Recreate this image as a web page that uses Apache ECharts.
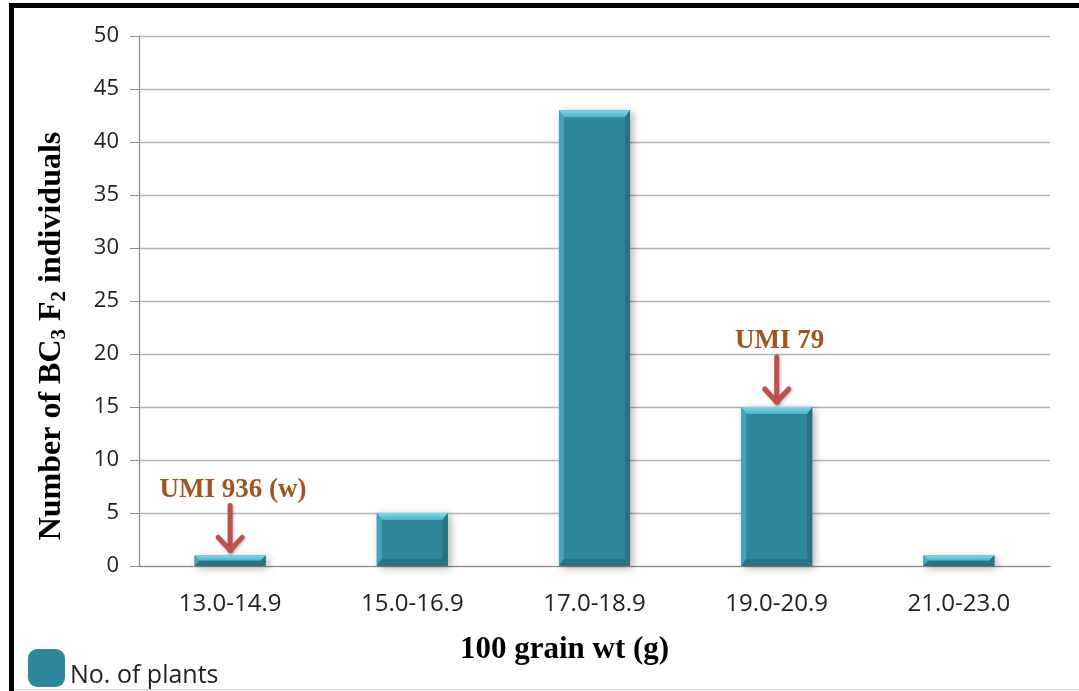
<!DOCTYPE html>
<html>
<head>
<meta charset="utf-8">
<script src="https://cdn.jsdelivr.net/npm/echarts@6/dist/echarts.min.js"></script>
<style>
  html, body { margin: 0; padding: 0; background: #fff; }
  #main { width: 1079px; height: 691px; }
</style>
</head>
<body>
<div id="main"></div>
<script>
const categories = ["13.0-14.9", "15.0-16.9", "17.0-18.9", "19.0-20.9", "21.0-23.0"];
const plants = [1, 5, 43, 15, 1];
const yTicks = { min: 0, max: 50, interval: 5 };
const notes = [
  ["13.0-14.9", 1, "UMI 936 (w)"],
  ["19.0-20.9", 15, "UMI 79"],
];

const chart = echarts.init(document.getElementById("main"));
const sans = "'Open Sans', 'Noto Sans', sans-serif";
const serif = "'Liberation Serif', 'DejaVu Serif', serif";
const barFrac = 0.39;

// bevel edges drawn over each bar
const bevel = (params, api) => {
  const top = api.coord([api.value(0), api.value(1)]);
  const base = api.coord([api.value(0), 0]);
  const w = api.size([1, 0])[0] * barFrac;
  const l = top[0] - w / 2, r = top[0] + w / 2, t = top[1], b = base[1];
  const s = Math.min(7, (b - t) / 2);
  const sx = Math.min(5, (b - t) / 2);
  return {
    type: "group",
    children: [
      { type: "polygon", shape: { points: [[l, t], [r, t], [r - sx, t + s], [l + sx, t + s]] },
        style: { fill: new echarts.graphic.LinearGradient(0, 0, 0, 1, [
          { offset: 0, color: "#7fd6ea" }, { offset: 1, color: "#4fb2ca" }]) } },
      { type: "polygon", shape: { points: [[l, t], [l + sx, t + s], [l + sx, b - s], [l, b]] },
        style: { fill: "#45a3ba" } },
      { type: "polygon", shape: { points: [[r, t], [r, b], [r - sx, b - s], [r - sx, t + s]] },
        style: { fill: "#27737f" } },
      { type: "polygon", shape: { points: [[l, b], [r, b], [r - sx, b - s], [l + sx, b - s]] },
        style: { fill: "#2a7486" } },
    ],
  };
};

// labels with arrows above bars
const note = (params, api) => {
  const p = api.coord([api.value(0), api.value(1)]);
  const x = p[0], tip = p[1] - 5, tail = p[1] - 50;
  const arrow = { stroke: "#c0504d", lineWidth: 5, lineCap: "round", lineJoin: "round",
    shadowBlur: 3, shadowColor: "rgba(0,0,0,0.3)", shadowOffsetX: 1, shadowOffsetY: 1, fill: null };
  return {
    type: "group",
    children: [
      { type: "polyline", shape: { points: [[x, tail], [x, tip]] }, style: arrow },
      { type: "polyline", shape: { points: [[x - 12, tip - 13], [x, tip], [x + 12, tip - 13]] }, style: arrow },
      { type: "text", x: x + 3, y: tail - 2,
        style: { text: notes[params.dataIndex][2], font: "bold 27px " + serif, fill: "#a3531f",
          align: "center", verticalAlign: "bottom" } },
    ],
  };
};

chart.setOption({
  animation: false,
  backgroundColor: "#fff",
  grid: { left: 139, right: 29, top: 36, bottom: 125 },
  legend: {
    data: ["No. of plants"],
    left: 23, top: 644,
    icon: "roundRect",
    itemWidth: 37, itemHeight: 38, itemGap: 6,
    formatter: "{a|{name}}",
    textStyle: {
      fontFamily: sans, fontSize: 25, color: "#222",
      rich: { a: { fontFamily: sans, fontSize: 25, color: "#222", padding: [16, 0, 0, 0] } },
    },
  },
  xAxis: {
    type: "category",
    data: categories,
    name: "100 grain wt (g)",
    nameLocation: "middle",
    nameGap: 68,
    nameTextStyle: { fontFamily: serif, fontWeight: "bold", fontSize: 31, color: "#000", padding: [0, 60, 0, 0] },
    axisLine: { lineStyle: { color: "#8c8c8c", width: 1.2 } },
    axisTick: { length: 8, lineStyle: { color: "#8c8c8c" } },
    axisLabel: { fontFamily: sans, fontSize: 24, color: "#222", margin: 26 },
  },
  yAxis: {
    type: "value",
    min: yTicks.min, max: yTicks.max, interval: yTicks.interval,
    axisLine: { show: true, lineStyle: { color: "#8c8c8c", width: 1.2 } },
    axisTick: { show: true, length: 9, lineStyle: { color: "#8c8c8c" } },
    axisLabel: { fontFamily: sans, fontSize: 22, color: "#222", margin: 20 },
    splitLine: { lineStyle: { color: "#b3b3b3", width: 1.3 } },
  },
  graphic: [
    { type: "polyline", shape: { points: [[11.5, 691], [11.5, 5.5], [1079, 5.5]] },
      style: { stroke: "#000", lineWidth: 5, fill: null } },
    { type: "line", shape: { x1: 14, y1: 689.5, x2: 1079, y2: 689.5 },
      style: { stroke: "#d0d0d0", lineWidth: 1 } },
    { type: "text", x: 52, y: 336, rotation: Math.PI / 2,
      style: {
        text: "{m|Number of BC}{s|3}{m| F}{s|2}{m| individuals}",
        align: "center", verticalAlign: "middle",
        rich: {
          m: { font: "bold 32px " + serif, fill: "#000", lineHeight: 30 },
          s: { font: "bold 21px " + serif, fill: "#000", lineHeight: 20, padding: [16, 0, 0, 0] },
        },
      } },
  ],
  series: [
    {
      name: "No. of plants",
      type: "bar",
      data: plants,
      barWidth: barFrac * 100 + "%",
      itemStyle: { color: "#2f879d", shadowBlur: 8, shadowColor: "rgba(0,0,0,0.3)", shadowOffsetX: 3, shadowOffsetY: 2 },
    },
    {
      type: "custom",
      renderItem: bevel,
      data: categories.map((c, i) => [c, plants[i]]),
      z: 3,
      silent: true,
    },
    {
      type: "custom",
      renderItem: note,
      data: notes.map((n) => [n[0], n[1]]),
      z: 4,
      silent: true,
    },
  ],
});
</script>
</body>
</html>
